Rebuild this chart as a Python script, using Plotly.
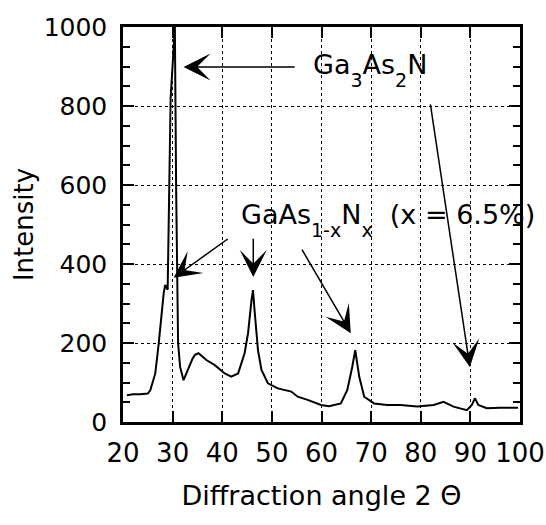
import plotly.graph_objects as go

# Diffraction angle (2 theta, degrees) and intensity
angle = [20.8, 22.0, 23.5, 25.0, 25.5, 26.5, 27.2, 27.8, 28.2, 28.5, 29.0, 29.6,
         30.45, 30.7, 30.9, 31.1, 31.5, 32.2, 33.0, 34.0, 34.5, 35.2, 36.0,
         36.8, 38.5, 40.5, 41.8, 43.2, 44.5, 45.2, 45.9, 46.2, 46.5, 47.2, 47.9, 49.2,
         51.2, 53.9, 55.2, 57.2, 59.9, 61.5, 63.9, 65.2, 66.2, 66.8, 67.6, 68.6, 70.6,
         73.2, 75.9, 79.3, 82.6, 84.6, 86.6, 89.3, 90.3, 90.9, 91.6, 93.3, 96.0, 98.6, 99.6]
intensity = [68, 70, 70, 72, 80, 123, 199, 284, 326, 347, 335, 820,
             1000, 600, 300, 200, 140, 106, 130, 160, 170, 174, 166,
             157, 144, 123, 115, 123, 174, 225, 309, 334, 284, 182, 132, 98,
             85, 77, 64, 56, 43, 40, 47, 81, 140, 182, 115, 64, 47,
             43, 43, 39, 43, 51, 39, 30, 43, 60, 43, 35, 36, 35, 36]

x_ticks = [20, 30, 40, 50, 60, 70, 80, 90, 100]
y_ticks = [0, 200, 400, 600, 800, 1000]

FONT = "DejaVu Sans"

fig = go.Figure()
fig.add_trace(go.Scatter(x=angle, y=intensity, mode="lines",
                         line=dict(color="black", width=2),
                         showlegend=False, hoverinfo="skip"))

fig.update_layout(
    width=546, height=525,
    margin=dict(l=123, r=26, t=27, b=103, autoexpand=False),
    plot_bgcolor="white", paper_bgcolor="white",
    font=dict(family=FONT, color="black", size=25),
    showlegend=False,
)

fig.update_xaxes(
    range=[20, 100], tickvals=x_ticks, ticktext=[str(v) for v in x_ticks],
    ticks="inside", ticklen=11, tickwidth=1.5, tickcolor="black",
    showline=True, linewidth=2.5, linecolor="black", mirror="ticks",
    showgrid=True, gridcolor="black", griddash="dot", gridwidth=1,
    zeroline=False, tickfont=dict(size=26, family=FONT), ticklabelstandoff=6,
    automargin=False,
    title=dict(text="Diffraction angle 2 Θ", font=dict(size=27, family=FONT), standoff=20),
)
fig.update_yaxes(
    range=[0, 1000], tickvals=y_ticks, ticktext=[str(v) for v in y_ticks],
    ticks="inside", ticklen=11, tickwidth=1.5, tickcolor="black",
    minor=dict(dtick=50, ticks="inside", ticklen=7, tickwidth=1.5, tickcolor="black", showgrid=False),
    showline=True, linewidth=2.5, linecolor="black", mirror="ticks",
    showgrid=True, gridcolor="black", griddash="dot", gridwidth=1,
    zeroline=False, tickfont=dict(size=25, family=FONT), ticklabelstandoff=8,
    automargin=False,
    title=dict(text="Intensity", font=dict(size=26, family=FONT), standoff=3),
)

# arrows: (tail_x, tail_y, head_x, head_y)
arrows = [
    (54.9, 899, 32.2, 899),
    (81.9, 808, 89.9, 139),
    (41.4, 466, 30.2, 365),
    (46.25, 468, 46.25, 367),
    (55.9, 440, 65.9, 225),
]
for tx, ty, hx, hy in arrows:
    fig.add_annotation(x=hx, y=hy, ax=tx, ay=ty, xref="x", yref="y", axref="x", ayref="y",
                       text="", showarrow=True, arrowhead=3, arrowsize=3, arrowwidth=1.5,
                       arrowcolor="black")

sub = '<span style="font-size:19px;baseline-shift:-13px">{}</span>'
fig.add_annotation(x=57.9, y=891, xref="x", yref="y", xanchor="left", yanchor="middle",
                   text="Ga" + sub.format("3") + "As" + sub.format("2") + "N",
                   showarrow=False, font=dict(size=27, family=FONT, color="black"))
fig.add_annotation(x=43.4, y=511, xref="x", yref="y", xanchor="left", yanchor="middle",
                   text="GaAs" + sub.format("1-x") + "N" + sub.format("x") + "  (x = 6.5%)",
                   showarrow=False, font=dict(size=27, family=FONT, color="black"))

fig.write_html("out.html", config={"displayModeBar": False},
               post_script="document.body.style.margin='0px';")
